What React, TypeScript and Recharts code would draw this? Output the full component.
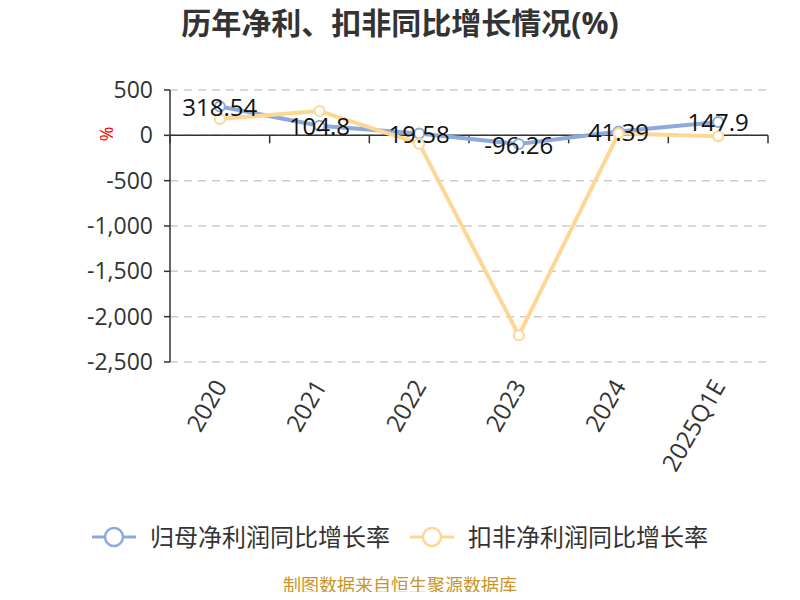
import React from "react";
import {
  LineChart,
  Line,
  XAxis,
  YAxis,
  CartesianGrid,
  ReferenceLine,
  LabelList,
} from "recharts";

const years = ["2020", "2021", "2022", "2023", "2024", "2025Q1E"];
const netProfitGrowth = [318.54, 104.8, 19.58, -96.26, 41.39, 147.9];
const deductedGrowth = [180, 268, -92, -2205, 19, -11];
const yTicks = [-2500, -2000, -1500, -1000, -500, 0, 500];

const BLUE = "#8EAADC";
const YELLOW = "#FFD794";
const FONT = '"Open Sans", "Noto Sans CJK SC", sans-serif';

const data = years.map((year, i) => ({
  year,
  net: netProfitGrowth[i],
  deducted: deductedGrowth[i],
}));

// zero axis with tick marks on category boundaries
function ZeroAxis(props: any) {
  const { x1, y1, x2 } = props;
  const n = years.length;
  const step = (x2 - x1) / n;
  return (
    <g>
      <line x1={x1} y1={y1} x2={x2} y2={y1} stroke="#333" strokeWidth={1.5} />
      {Array.from({ length: n + 1 }, (_, i) => (
        <line
          key={i}
          x1={x1 + i * step}
          y1={y1}
          x2={x1 + i * step}
          y2={y1 + 8}
          stroke="#333"
          strokeWidth={1.5}
        />
      ))}
    </g>
  );
}

function XTick(props: any) {
  const { x, y, payload } = props;
  return (
    <text
      x={x + 8}
      y={y + 24}
      textAnchor="end"
      transform={`rotate(-60 ${x + 8} ${y + 24})`}
      fill="#333"
      fontSize={24}
      fontFamily={FONT}
    >
      {payload.value}
    </text>
  );
}

function ValueLabel(props: any) {
  const { x, y, value } = props;
  return (
    <text
      x={x}
      y={y}
      textAnchor="middle"
      dominantBaseline="central"
      fill="#111"
      fontSize={24}
      fontFamily={FONT}
    >
      {value}
    </text>
  );
}

function LegendIcon({ color }: { color: string }) {
  return (
    <svg width={44} height={24} style={{ marginRight: 14 }}>
      <line x1={0} y1={12} x2={44} y2={12} stroke={color} strokeWidth={3} />
      <circle cx={22} cy={12} r={9} fill="#fff" stroke={color} strokeWidth={2.5} />
    </svg>
  );
}

export default function App() {
  return (
    <div
      style={{
        position: "relative",
        width: 800,
        height: 600,
        margin: -8,
        background: "#fff",
        fontFamily: FONT,
      }}
    >
      <div
        style={{
          position: "absolute",
          top: 8,
          left: 0,
          width: 800,
          textAlign: "center",
          fontSize: 30,
          lineHeight: "30px",
          fontWeight: "bold",
          color: "#333",
        }}
      >
        历年净利、扣非同比增长情况(%)
      </div>
      <div
        style={{
          position: "absolute",
          left: 100,
          top: 122,
          color: "red",
          fontSize: 18,
          transform: "rotate(90deg)",
        }}
      >
        %
      </div>
      <LineChart
        width={800}
        height={600}
        data={data}
        margin={{ top: 90, right: 32, bottom: 128, left: 100 }}
      >
        <CartesianGrid
          vertical={false}
          stroke="#ccc"
          strokeDasharray="8 6"
          strokeWidth={1.5}
        />
        <XAxis
          dataKey="year"
          scale="band"
          axisLine={false}
          tickLine={false}
          tickSize={0}
          tickMargin={0}
          height={110}
          interval={0}
          tick={<XTick />}
        />
        <YAxis
          width={70}
          domain={[-2500, 500]}
          ticks={yTicks}
          interval={0}
          tickFormatter={(v: number) => v.toLocaleString("en-US")}
          axisLine={{ stroke: "#333", strokeWidth: 1.5 }}
          tickLine={{ stroke: "#333", strokeWidth: 1.5 }}
          tickSize={6}
          tickMargin={11}
          tick={{ fill: "#333", fontSize: 23, fontFamily: FONT }}
        />
        <ReferenceLine y={0} shape={<ZeroAxis />} />
        <Line
          dataKey="net"
          stroke={BLUE}
          strokeWidth={4}
          dot={{ r: 5, fill: "#fff", stroke: BLUE, strokeWidth: 2 }}
          isAnimationActive={false}
        >
          <LabelList dataKey="net" content={<ValueLabel />} />
        </Line>
        <Line
          dataKey="deducted"
          stroke={YELLOW}
          strokeWidth={4}
          dot={{ r: 5, fill: "#fff", stroke: YELLOW, strokeWidth: 2 }}
          isAnimationActive={false}
        />
      </LineChart>
      <div
        style={{
          position: "absolute",
          top: 523,
          left: 0,
          width: 800,
          display: "flex",
          justifyContent: "center",
          alignItems: "center",
          fontSize: 24,
          lineHeight: "28px",
          color: "#333",
        }}
      >
        <div style={{ display: "flex", alignItems: "center", marginRight: 20 }}>
          <LegendIcon color={BLUE} />
          归母净利润同比增长率
        </div>
        <div style={{ display: "flex", alignItems: "center" }}>
          <LegendIcon color={YELLOW} />
          扣非净利润同比增长率
        </div>
      </div>
      <div
        style={{
          position: "absolute",
          top: 574,
          left: 0,
          width: 800,
          textAlign: "center",
          fontSize: 18,
          lineHeight: "22px",
          color: "#C8952B",
        }}
      >
        制图数据来自恒生聚源数据库
      </div>
    </div>
  );
}
